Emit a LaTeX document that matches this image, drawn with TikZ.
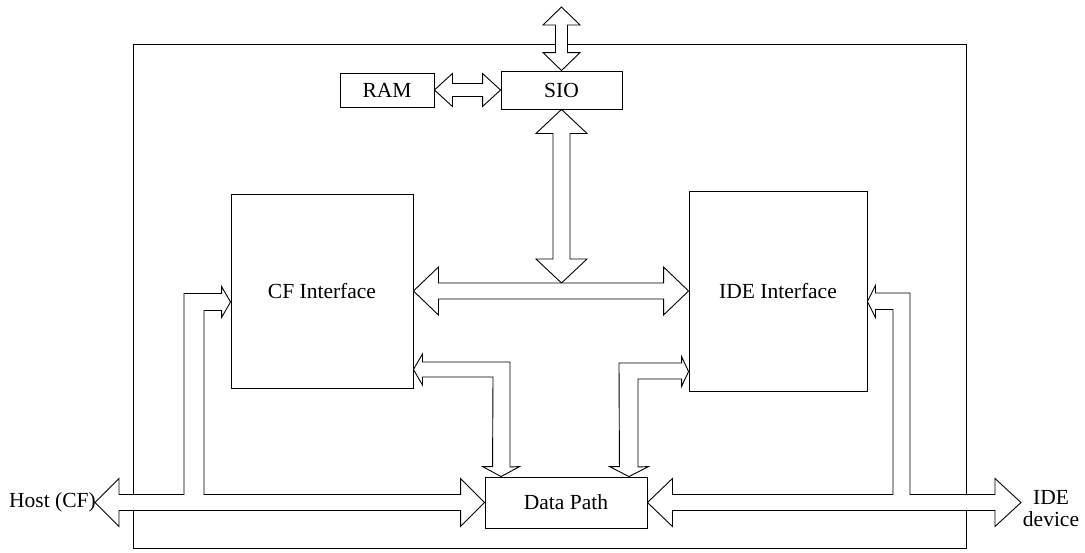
\documentclass[tikz,border=0pt]{standalone}
\usepackage{fontspec}
\setmainfont{Liberation Serif}
\usetikzlibrary{calc}

% hollow double-headed bus arrows: #1 start tip, #2 end tip, shaft half, head half, head length
\newcommand{\hbus}[5]{%
  \draw[bus] #1 -- ($#1+(#5,-#4)$) -- ($#1+(#5,-#3)$) -- ($#2+(-#5,-#3)$) -- ($#2+(-#5,-#4)$) -- #2
    -- ($#2+(-#5,#4)$) -- ($#2+(-#5,#3)$) -- ($#1+(#5,#3)$) -- ($#1+(#5,#4)$) -- cycle;}
\newcommand{\vbus}[5]{%
  \draw[bus] #1 -- ($#1+(#4,#5)$) -- ($#1+(#3,#5)$) -- ($#2+(#3,-#5)$) -- ($#2+(#4,-#5)$) -- #2
    -- ($#2+(-#4,-#5)$) -- ($#2+(-#3,-#5)$) -- ($#1+(-#3,#5)$) -- ($#1+(-#4,#5)$) -- cycle;}

\begin{document}
\begin{tikzpicture}[x=1pt, y=-1pt,
  every node/.style={font=\fontsize{21.5}{22}\selectfont},
  block/.style={draw, line width=0.9pt, inner sep=0pt},
  bus/.style={draw, fill=white, line width=0.9pt, line join=miter}
]
  \useasboundingbox (0,0) rectangle (1085,552);

  \node[block, minimum width=833, minimum height=504] (chip) at (549.5,296) {};

  \node[block, minimum width=94, minimum height=34] (ram) at (387,90) {RAM};
  \node[block, minimum width=121, minimum height=38] (sio) at (561.5,90) {SIO};
  \node[block, minimum width=182, minimum height=194] (cf) at (322,291) {CF Interface};
  \node[block, minimum width=178, minimum height=200] (ide) at (778,291) {IDE Interface};
  \node[block, minimum width=162, minimum height=51] (dp) at (566,502.5) {Data Path};

  \node[anchor=east, inner sep=0pt] (hostlbl) at (96,502.5) {Host (CF)};
  \node[align=center, inner sep=0pt] (idelbl) at (1051,509) {IDE\\device};

  % free ends and bus taps
  \coordinate (siotop) at (561.5,7);
  \coordinate (tee) at ($(sio.south |- cf.east)+(0,-8)$);
  \coordinate (host) at (95,502.5);
  \coordinate (idedev) at (1021,502.5);
  \path (cf.west) ++(0,11) coordinate (cfin);
  \path (ide.east) ++(0,10.5) coordinate (idein);
  \path (cf.east) ++(0,78.5) coordinate (cfout);
  \path (ide.west) ++(0,80.5) coordinate (ideout);
  \path (dp.north west) ++(16.5,0) coordinate (dpin1);
  \path (dp.north east) ++(-18.5,0) coordinate (dpin2);

  \vbus{(siotop)}{(sio.north)}{6}{18.5}{18}
  \hbus{(ram.east)}{(sio.west)}{6.5}{16.5}{18}
  \vbus{(sio.south)}{(tee)}{8.5}{25.5}{24}
  \hbus{(cf.east)}{(ide.west)}{8}{24}{25}

  % host side bus with tap to CF Interface
  \draw[bus] (host) -- ++(24,-24) -- ++(0,16) -- (184,494.5) -- (184,293.5)
    -- ($(cfin)+(-9,-8.5)$) -- ++(0,-7) -- (cfin) -- ++(-9,15.5) -- ++(0,-7)
    -- (204,310.5) -- (204,494.5) -- ($(dp.west)+(-24,-8)$) -- ++(0,-16) -- (dp.west)
    -- ++(-24,24) -- ++(0,-16) -- ($(host)+(24,8)$) -- ++(0,16) -- cycle;

  % device side bus with tap to IDE Interface
  \draw[bus] (dp.east) -- ++(25,-24) -- ++(0,16) -- (893,494.5) -- (893,309.5)
    -- ($(idein)+(8,8)$) -- ++(0,8) -- (idein) -- ++(8,-16) -- ++(0,7.5)
    -- (910,293) -- (910,494.5) -- ($(idedev)+(-26,-8)$) -- ++(0,-16) -- (idedev)
    -- ++(-26,24) -- ++(0,-16) -- ($(dp.east)+(25,8)$) -- ++(0,16) -- cycle;

  % interfaces to Data Path
  \draw[bus] (cfout) -- ++(9,-15.5) -- ++(0,8) -- (510,362) -- (510,467)
    -- ($(dpin1)+(18.5,-10)$) -- (dpin1) -- ++(-18.5,-10) -- ++(10,0) -- (493,377)
    -- ($(cfout)+(9,7.5)$) -- ++(0,8) -- cycle;
  \draw[bus] (ideout) -- ++(-7,15) -- ++(0,-7.5) -- (638,379) -- (638,467)
    -- ($(dpin2)+(19.5,-10)$) -- (dpin2) -- ++(-19.5,-10) -- ++(10,0) -- (619,363)
    -- ($(ideout)+(-7,-8.5)$) -- ++(0,-6.5) -- cycle;
\end{tikzpicture}
\end{document}
